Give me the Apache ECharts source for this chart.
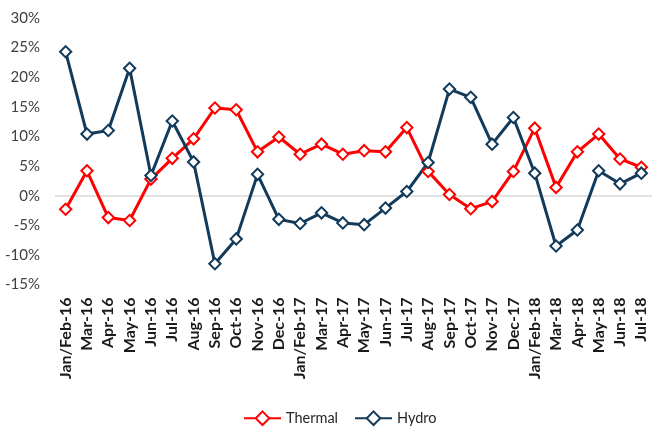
<!DOCTYPE html>
<html>
<head>
<meta charset="utf-8">
<script src="https://cdn.jsdelivr.net/npm/echarts@6/dist/echarts.min.js"></script>
<style>
  html, body { margin: 0; padding: 0; background: #fff; }
  #chart { width: 652px; height: 428px; }
</style>
</head>
<body>
<div id="chart"></div>
<script>
// Month labels (Jan and Feb are reported together)
const categories = [
  'Jan/Feb-16', 'Mar-16', 'Apr-16', 'May-16', 'Jun-16', 'Jul-16', 'Aug-16',
  'Sep-16', 'Oct-16', 'Nov-16', 'Dec-16', 'Jan/Feb-17', 'Mar-17', 'Apr-17',
  'May-17', 'Jun-17', 'Jul-17', 'Aug-17', 'Sep-17', 'Oct-17', 'Nov-17',
  'Dec-17', 'Jan/Feb-18', 'Mar-18', 'Apr-18', 'May-18', 'Jun-18', 'Jul-18'
];

// Year-on-year growth, percent
const thermal = [
  -2.3, 4.2, -3.7, -4.2, 2.8, 6.3, 9.6, 14.8, 14.5, 7.4, 9.9, 7.0, 8.7, 7.0,
  7.6, 7.4, 11.5, 4.1, 0.2, -2.2, -1.0, 4.1, 11.4, 1.4, 7.4, 10.4, 6.2, 4.8
];
const hydro = [
  24.3, 10.4, 11.0, 21.5, 3.4, 12.6, 5.7, -11.5, -7.3, 3.6, -4.0, -4.7, -2.9, -4.6,
  -4.9, -2.1, 0.7, 5.6, 18.0, 16.6, 8.7, 13.2, 3.8, -8.5, -5.8, 4.2, 2.0, 3.8
];

// Value axis range and step
const yMin = -15, yMax = 30, yStep = 5;

const FONT = 'Lato, "Open Sans", sans-serif';

function lineSeries(name, data, color) {
  return {
    name: name,
    type: 'line',
    data: data,
    symbol: 'rect',
    symbolRotate: 45,
    symbolSize: 8,
    lineStyle: { color: color, width: 3 },
    itemStyle: { color: '#ffffff', borderColor: color, borderWidth: 2 },
    emphasis: { disabled: true },
    animation: false
  };
}

const chart = echarts.init(document.getElementById('chart'), null, { renderer: 'canvas' });

const thermalSeries = lineSeries('Thermal', thermal, '#ff0000');
// light zero baseline across the plot
thermalSeries.markLine = {
  silent: true,
  symbol: 'none',
  label: { show: false },
  lineStyle: { color: '#d9d9d9', width: 1.5, type: 'solid' },
  data: [{ yAxis: 0 }],
  z: 1
};

chart.setOption({
  animation: false,
  grid: { left: 55, right: -3, top: 18, bottom: 143.5, containLabel: false },
  legend: {
    data: ['Thermal', 'Hydro'],
    left: 238,
    top: 405,
    itemWidth: 37,
    itemHeight: 12,
    itemGap: 16,
    textStyle: { fontFamily: FONT, fontSize: 14.5, color: '#262626' }
  },
  xAxis: {
    type: 'category',
    data: categories,
    boundaryGap: true,
    axisLine: { show: false },
    axisTick: { show: false },
    splitLine: { show: false },
    axisLabel: {
      rotate: 90,
      interval: 0,
      margin: 13,
      fontFamily: FONT,
      fontWeight: 'bold',
      fontSize: 16,
      color: '#1a1a1a'
    }
  },
  yAxis: {
    type: 'value',
    min: yMin,
    max: yMax,
    interval: yStep,
    axisLine: { show: false },
    axisTick: { show: false },
    splitLine: { show: false },
    axisLabel: {
      formatter: '{value}%',
      margin: 15,
      fontFamily: FONT,
      fontSize: 15,
      color: '#404040'
    }
  },
  series: [
    thermalSeries,
    lineSeries('Hydro', hydro, '#123a5a')
  ]
});
</script>
</body>
</html>
